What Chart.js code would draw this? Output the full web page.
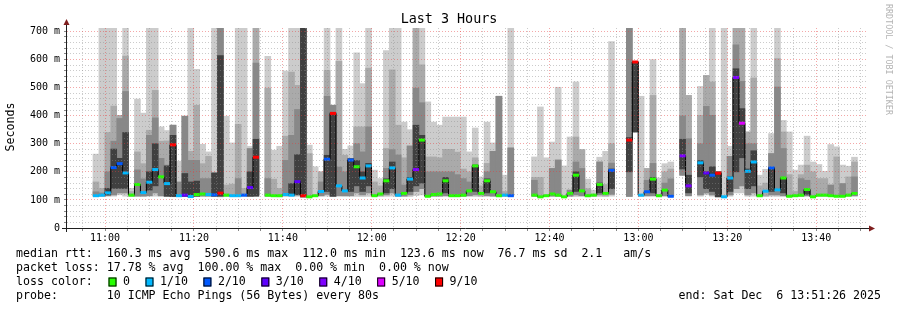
<!DOCTYPE html>
<html>
<head>
<meta charset="utf-8">
<script src="https://cdn.jsdelivr.net/npm/chart.js@4.4.1/dist/chart.umd.min.js"></script>
<style>
  html, body { margin: 0; padding: 0; background: #fff; }
  #chart { display: block; }
</style>
</head>
<body>
<canvas id="chart" width="897" height="310"></canvas>
<script>
// time frame: last 3 hours, one smoke column per 80s step
const chartStart = 10 * 3600 + 51 * 60 + 26; // 10:51:26
const chartSpan = 3 * 3600;
const firstSlot = 391; // centre of first step, seconds after chartStart
const step = 80;

// smoke bands (ms), one entry per step, null = no data
const outerLow = [
  112,112,112,113,118,113,112,112,112,112, 113,112,112,111,112,112,110,112,112,112,
  112,111,112,112,112,112,112,113,null,112, 112,111,112,112,112,111,110,112,112,113,
  112,112,112,112,112,112,112,112,112,112, 113,112,112,112,115,118,112,112,112,112,
  112,112,112,112,112,112,112,112,111,112, 112,null,null,null,112,110,112,112,112,110,
  112,112,112,111,112,112,112,113,null,null, 113,342,112,112,112,111,112,111,null,188,
  113,null,113,118,113,111,110,113,125,125, 113,113,111,112,113,112,112,111,112,112,
  112,111,112,112,112,112,112,112,112,null];
const outerHigh = [
  263,711,711,711,401,711,141,459,409,711, 711,360,347,366,238,398,711,565,298,271,
  711,711,398,303,711,711,291,711,null,611, 277,291,559,711,711,711,295,218,200,711,
  437,711,280,292,624,514,711,206,176,632, 711,711,377,350,711,711,449,377,366,395,
  395,395,395,271,356,182,377,303,469,188, 711,null,null,null,253,431,250,306,501,221,
  324,520,279,174,135,252,273,664,null,null, 711,591,469,212,600,178,229,235,null,711,
  472,null,504,543,711,200,711,291,711,711, 342,711,188,209,336,711,383,342,206,224,
  327,235,226,202,297,289,224,220,252,null];
const innerLow = [
  114,114,115,118,125,125,114,114,114,115, 125,115,114,112,114,113,113,114,114,114,
  114,113,114,114,114,114,113,120,null,114, 113,113,115,115,118,111,112,112,115,120,
  113,115,115,115,125,118,125,113,114,118, 125,114,114,118,130,140,113,114,114,115,
  114,114,114,115,118,114,115,114,112,114, 114,null,null,null,114,112,113,114,114,112,
  114,118,115,113,114,118,114,120,null,null, 112,342,114,115,115,113,115,114,null,188,
  115,null,118,125,118,111,112,118,140,150, 118,125,112,114,118,118,115,112,113,114,
  115,112,114,114,114,113,113,114,115,null];
const midHigh = [
  164,141,340,434,401,612,130,271,229,348, 490,309,310,366,null,398,273,437,229,255,
  196,711,153,156,369,141,null,711,null,498, 174,141,327,555,508,711,265,null,200,561,
  437,593,259,null,360,360,569,164,150,283, 563,366,250,292,711,581,253,253,250,280,
  280,270,210,200,250,150,230,273,469,130, 285,null,null,null,180,180,null,212,242,null,
  135,324,279,140,null,235,155,300,null,null, 711,591,null,212,472,null,200,210,null,711,
  472,null,401,543,520,200,null,255,711,711, 342,534,150,160,265,603,342,190,130,190,
  224,200,176,176,153,253,158,182,235,null];
const darkHigh = [
  129,125,200,309,390,486,null,207,175,330, 392,248,224,366,164,398,241,241,176,176,
  196,711,null,null,176,null,283,587,null,176, null,null,241,330,422,711,null,null,164,469,
  437,217,200,247,300,271,360,null,null,212, 279,260,153,292,498,446,200,200,200,200,
  200,190,176,164,224,null,200,273,469,null, 285,null,null,null,170,null,null,212,242,null,
  135,235,212,null,null,235,null,231,null,null, 711,591,null,170,230,null,160,175,null,399,
  318,null,300,433,401,200,null,255,652,522, 300,300,null,null,265,502,283,null,null,176,
  170,null,null,null,153,null,158,null,182,null];
const coreLow = [
  null,null,118,141,141,141,null,null,null,135, 150,null,113,112,null,113,113,113,null,null,
  113,113,null,null,null,null,113,113,null,null, null,null,null,118,118,111,null,null,null,130,
  113,null,null,130,150,130,150,null,null,125, 140,null,null,130,150,160,null,null,null,125,
  null,null,null,null,130,null,125,null,null,null, null,null,null,null,null,null,null,null,null,null,
  null,130,null,null,null,125,null,140,null,null, 200,342,null,null,125,null,null,null,null,210,
  125,null,182,140,130,111,null,130,200,250, 140,150,null,null,130,null,125,null,null,null,
  120,null,null,null,null,null,null,null,null,null];
const coreHigh = [
  null,null,141,281,248,340,null,null,null,200, 300,null,221,330,null,194,164,167,null,null,
  196,614,null,null,null,null,200,316,null,null, null,null,null,158,261,711,null,null,null,259,
  411,null,null,247,240,200,230,null,null,175, 235,null,null,180,366,330,null,null,null,180,
  null,null,null,null,224,null,175,null,null,null, null,null,null,null,null,null,null,null,null,null,
  null,200,null,null,null,160,null,210,null,null, 322,591,null,null,180,null,null,null,null,316,
  188,null,240,200,218,200,null,182,567,425, 210,275,null,null,214,null,178,null,null,null,
  137,null,null,null,null,null,null,null,null,null];

// median rtt (ms) and lost pings out of 10 per step
const median = [
  115,117,125,215,229,196,117,155,126,163, 208,182,158,296,115,117,112,119,121,119,
  118,124,117,115,115,117,144,252,null,117, 115,115,119,117,165,115,111,115,130,245,
  408,150,132,242,218,178,221,115,121,168, 214,117,123,174,208,313,113,119,121,168,
  115,115,117,132,221,123,168,129,115,117, 115,null,null,null,117,111,115,121,117,111,
  123,188,132,115,117,155,123,205,null,null, 313,591,117,129,174,115,135,113,null,257,
  150,null,232,196,188,195,111,178,536,373, 202,235,115,131,214,136,178,113,115,117,
  137,111,117,117,115,113,113,117,123,null];
const loss = [
  1,1,1,2,2,1,0,0,1,1, 1,0,1,9,1,3,1,0,0,1,
  2,9,0,1,1,2,3,9,null,0, 0,0,1,1,3,9,0,0,1,2,
  9,1,1,2,0,1,1,0,0,0, 1,1,0,1,4,0,0,0,0,0,
  0,0,0,0,0,0,0,0,0,1, 2,null,null,null,0,0,0,0,0,0,
  0,0,0,0,0,0,0,2,null,null, 9,9,1,2,0,0,0,2,null,4,
  4,null,1,3,2,9,1,1,4,5, 1,1,0,1,2,1,0,0,0,0,
  0,0,0,0,0,0,0,0,0,null];

const lossLevels = [0, 1, 2, 3, 4, 5, 9];
const lossLabels = ["0", "1/10", "2/10", "3/10", "4/10", "5/10", "9/10"];
const lossColors = ["#26ff00", "#00b8ff", "#0059ff", "#5e00ff", "#7e00ff", "#dd00ff", "#ff0000"];

const statLines = [
  "median rtt:  160.3 ms avg  590.6 ms max  112.0 ms min  123.6 ms now  76.7 ms sd  2.1   am/s",
  "packet loss: 17.78 % avg  100.00 % max  0.00 % min  0.00 % now",
  "loss color:",
  "probe:       10 ICMP Echo Pings (56 Bytes) every 80s",
];
const endText = "end: Sat Dec  6 13:51:26 2025";

const slotTimes = median.map((_, i) => firstSlot + i * step);

const toBars = (low, high) =>
  slotTimes
    .map((t, i) => ({ x: t, y: [low[i], high[i]] }))
    .filter((p, i) => low[i] != null && high[i] != null);

const colorFor = (l) => lossColors[lossLevels.indexOf(l)];

const clock = (v) => {
  const s = chartStart + v;
  const h = Math.floor(s / 3600);
  const m = Math.round((s % 3600) / 60);
  return String(h).padStart(2, "0") + ":" + String(m).padStart(2, "0");
};

const mono = '"DejaVu Sans Mono", monospace';
const minorGrid = "rgba(140,140,140,0.45)";
const majorGrid = "rgba(230,60,60,0.45)";

const bandSet = (label, low, high, color, order) => ({
  type: "bar",
  label,
  data: toBars(low, high),
  backgroundColor: color,
  borderWidth: 0,
  grouped: false,
  barPercentage: 1,
  categoryPercentage: 1,
  order,
});

// axes, arrows, title and legend text like rrdtool draws them
const frame = {
  id: "frame",
  afterDraw(chart) {
    const ctx = chart.ctx;
    const { left, right, bottom } = chart.chartArea;
    ctx.save();
    ctx.strokeStyle = "#1f1f1f";
    ctx.lineWidth = 1;
    ctx.beginPath();
    ctx.moveTo(left - 0.5, 24);
    ctx.lineTo(left - 0.5, bottom + 4);
    ctx.moveTo(left - 5, bottom + 0.5);
    ctx.lineTo(right + 2, bottom + 0.5);
    ctx.stroke();

    ctx.fillStyle = "#7f1f1f";
    ctx.beginPath();
    ctx.moveTo(left - 3.5, 25);
    ctx.lineTo(left + 2.5, 25);
    ctx.lineTo(left - 0.5, 19);
    ctx.closePath();
    ctx.fill();
    ctx.beginPath();
    ctx.moveTo(right + 2, bottom - 2.5);
    ctx.lineTo(right + 2, bottom + 3.5);
    ctx.lineTo(right + 8, bottom + 0.5);
    ctx.closePath();
    ctx.fill();

    ctx.fillStyle = "#000";
    ctx.textBaseline = "middle";
    ctx.font = "13.4px " + mono;
    ctx.textAlign = "center";
    ctx.fillText("Last 3 Hours", 449, 20);

    ctx.font = "11.6px " + mono;
    ctx.save();
    ctx.translate(11, 127);
    ctx.rotate(-Math.PI / 2);
    ctx.fillText("Seconds", 0, 0);
    ctx.restore();

    ctx.textAlign = "left";
    const rows = [254, 268, 282, 296];
    statLines.forEach((s, i) => ctx.fillText(s, 16, rows[i]));
    ctx.textAlign = "right";
    ctx.fillText(endText, 881, rows[3]);

    ctx.textAlign = "left";
    let bx = 108.5;
    lossLabels.forEach((lab, i) => {
      ctx.fillStyle = lossColors[i];
      ctx.fillRect(bx, rows[2] - 4.5, 8, 9);
      ctx.strokeStyle = "#000";
      ctx.strokeRect(bx + 0.5, rows[2] - 4, 7, 8);
      ctx.fillStyle = "#000";
      ctx.fillText(lab, bx + 14.5, rows[2]);
      bx += 30 + ctx.measureText(lab).width;
    });

    ctx.save();
    ctx.translate(888, 4);
    ctx.rotate(Math.PI / 2);
    ctx.fillStyle = "#b4b4b4";
    ctx.font = "8.4px " + mono;
    ctx.textAlign = "left";
    ctx.fillText("RRDTOOL / TOBI OETIKER", 0, 0);
    ctx.restore();
    ctx.restore();
  },
};

new Chart(document.getElementById("chart"), {
  type: "bar",
  data: {
    datasets: [
      {
        type: "line",
        label: "loss",
        data: slotTimes.map((t, i) => ({ x: t, y: median[i] })).filter((p, i) => median[i] != null),
        showLine: false,
        pointStyle: "line",
        pointRadius: 3,
        pointBorderWidth: 3,
        pointBorderColor: loss.filter((l) => l != null).map(colorFor),
        order: 0,
      },
      {
        type: "line",
        label: "median rtt",
        data: slotTimes.map((t, i) => ({ x: t, y: median[i] })),
        stepped: "middle",
        borderColor: "#000",
        borderWidth: 1,
        pointRadius: 0,
        spanGaps: false,
        order: 1,
      },
      bandSet("core", coreLow, coreHigh, "#404040", 2),
      bandSet("dark", innerLow, darkHigh, "#888888", 3),
      bandSet("mid", innerLow, midHigh, "#aaaaaa", 4),
      bandSet("outer", outerLow, outerHigh, "#cccccc", 5),
    ],
  },
  options: {
    responsive: false,
    animation: false,
    events: [],
    layout: { padding: { top: 28, right: 30, left: 0, bottom: 0 } },
    plugins: { legend: { display: false }, tooltip: { enabled: false } },
    scales: {
      x: {
        type: "linear",
        min: 0,
        max: chartSpan,
        offset: false,
        afterFit: (s) => { s.height = 82; },
        afterBuildTicks: (s) => {
          const ticks = [];
          for (let v = 214; v <= chartSpan; v += 300) ticks.push({ value: v });
          s.ticks = ticks;
        },
        grid: {
          offset: false,
          z: 1,
          tickLength: 3,
          tickColor: "#888",
          color: (c) => (c.tick && (c.tick.value - 514) % 1200 === 0 ? majorGrid : minorGrid),
        },
        border: { display: false, dash: [1, 2] },
        ticks: {
          autoSkip: false,
          maxRotation: 0,
          padding: 1,
          color: "#000",
          font: { family: mono, size: 10 },
          callback: (v) => ((v - 514) % 1200 === 0 ? clock(v) : ""),
        },
      },
      y: {
        min: 0,
        max: 712,
        afterFit: (s) => { s.width = 67; },
        afterBuildTicks: (s) => {
          const ticks = [];
          for (let v = 0; v <= 700; v += 20) ticks.push({ value: v });
          s.ticks = ticks;
        },
        grid: {
          z: 1,
          tickLength: 3,
          tickColor: "#888",
          color: (c) => {
            if (!c.tick || c.tick.value === 0) return "rgba(0,0,0,0)";
            return c.tick.value % 100 === 0 ? majorGrid : minorGrid;
          },
        },
        border: { display: false, dash: [1, 2] },
        ticks: {
          autoSkip: false,
          padding: 4,
          color: "#000",
          font: { family: mono, size: 10 },
          callback: (v) => (v % 100 === 0 ? (v === 0 ? "0" : v + " m") : ""),
        },
      },
    },
  },
  plugins: [frame],
});
</script>
</body>
</html>
